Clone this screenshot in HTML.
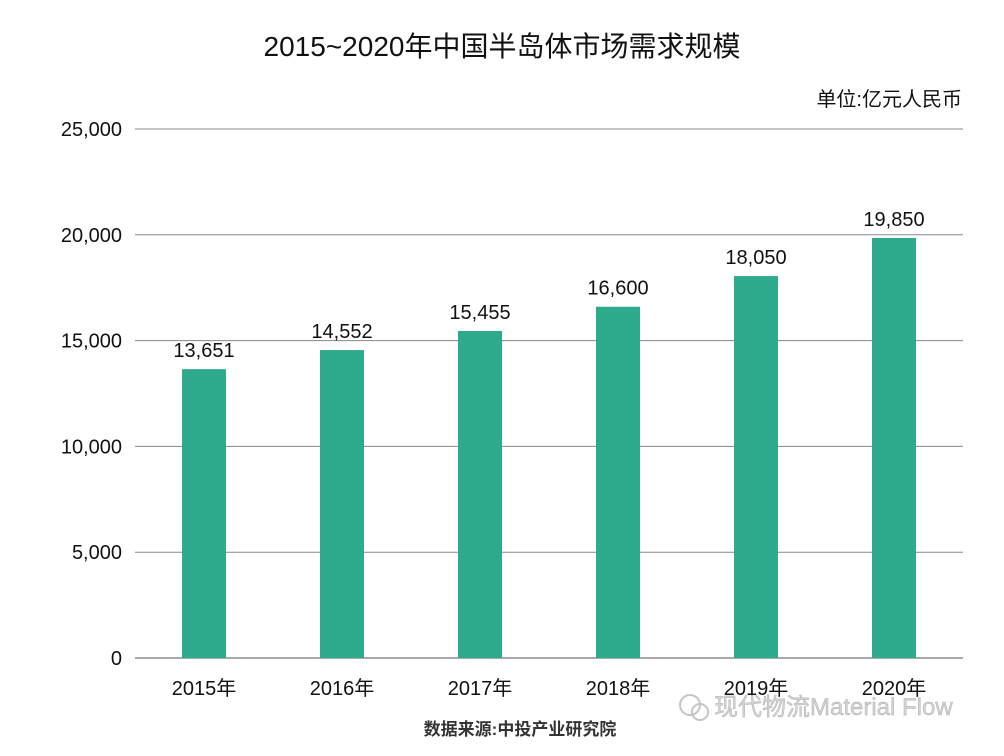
<!DOCTYPE html>
<html><head><meta charset="utf-8"><style>
body{margin:0;background:#fff;}
svg text{font-family:"Liberation Sans","Noto Sans CJK SC",sans-serif;}
</style></head><body>
<svg id="chart" width="1004" height="751" xmlns="http://www.w3.org/2000/svg">
<text x="502" y="56" text-anchor="middle" font-size="28" fill="#111">2015~2020年中国半岛体市场需求规模</text>
<text x="962" y="106" text-anchor="end" font-size="20" fill="#111">单位:亿元人民币</text>
<g id="grid"></g><g id="bars"></g><g id="xlabels"></g>
<text x="520" y="735" text-anchor="middle" font-size="17" font-weight="bold" fill="#333">数据来源:中投产业研究院</text>
<g opacity="0.85">
<circle cx="690" cy="705" r="10" fill="none" stroke="#bbb" stroke-width="2"/>
<circle cx="700" cy="712" r="8" fill="none" stroke="#bbb" stroke-width="2"/>
<text x="714" y="715" font-size="24" fill="#ccc" stroke="#999" stroke-width="0.4">现代物流Material Flow</text>
</g>
</svg>
<script>
const categories=["2015年","2016年","2017年","2018年","2019年","2020年"];
const values=[13651,14552,15455,16600,18050,19850];
const valueLabels=["13,651","14,552","15,455","16,600","18,050","19,850"];
const ticks=[0,5000,10000,15000,20000,25000];
const tickLabels=["0","5,000","10,000","15,000","20,000","25,000"];
const NS="http://www.w3.org/2000/svg";
const x0=135,x1=963,y0=658,y1=129,ymax=25000;
const y=v=>y0-(v/ymax)*(y0-y1);
const band=(x1-x0)/categories.length;
const xc=i=>x0+band*(i+0.5);
function mk(t,a,p){const e=document.createElementNS(NS,t);for(const k in a)e.setAttribute(k,a[k]);p.appendChild(e);return e;}
const grid=document.getElementById('grid'),bars=document.getElementById('bars'),xl=document.getElementById('xlabels');
ticks.forEach((t,i)=>{
 const l=mk('line',{x1:x0,x2:x1,y1:y(t),y2:y(t),stroke:i==0?'#555':'#888','stroke-width':1},grid);
 
 
 const tx=mk('text',{x:122,y:y(t)+7,'text-anchor':'end','font-size':20,fill:'#111'},grid);
 tx.textContent=tickLabels[i];
 
 
});
values.forEach((v,i)=>{
 const r=mk('rect',{x:xc(i)-22,y:y(v),width:44,height:y0-y(v),fill:'#2eaa8c'},bars);
 
 
 const t=mk('text',{x:xc(i),y:y(v)-12,'text-anchor':'middle','font-size':20,fill:'#111'},bars);
 t.textContent=valueLabels[i];
 
 
 const c=mk('text',{x:xc(i),y:695,'text-anchor':'middle','font-size':20,fill:'#111'},xl);
 c.textContent=categories[i];
 
 
});
</script>
</body></html>
